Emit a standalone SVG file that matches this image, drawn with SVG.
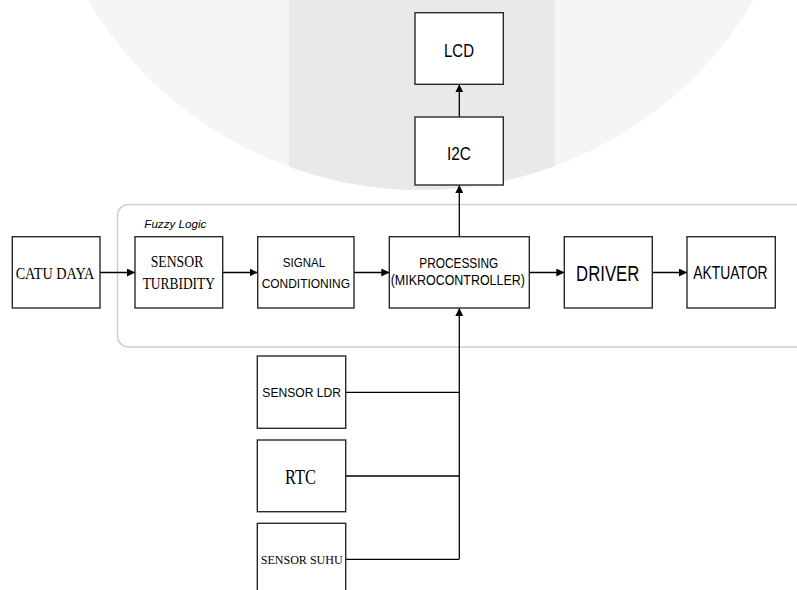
<svg xmlns="http://www.w3.org/2000/svg" width="797" height="590" viewBox="0 0 797 590">
<defs>
<style>
.box{fill:#fff;stroke:#2a2a2a;stroke-width:1.4}
.ln{fill:none;stroke:#000;stroke-width:1.3}
.sans{font-family:"Liberation Sans",Arial,sans-serif;fill:#000;text-anchor:middle}
.serif{font-family:"Liberation Serif","Times New Roman",serif;fill:#000;text-anchor:middle}
</style>
<marker id="arr" markerWidth="8" markerHeight="8" refX="8" refY="4" orient="auto" markerUnits="userSpaceOnUse">
<path d="M0,0 L8,4 L0,8 z" fill="#000"/>
</marker>
<clipPath id="wm"><circle cx="421" cy="-197" r="387"/></clipPath>
</defs>
<rect width="797" height="590" fill="#fff"/>
<g id="watermark">
<circle cx="421" cy="-197" r="387" fill="#f5f5f5"/>
<rect x="289" y="0" width="266" height="200" fill="#e9e9e9" clip-path="url(#wm)"/>
</g>
<g id="fuzzy-container">
<rect x="117.5" y="204.5" width="700" height="142.5" rx="11" fill="none" stroke="#cdcdcd" stroke-width="1.5"/>
<text x="144.3" y="227.7" font-family="'Liberation Sans',Arial,sans-serif" font-style="italic" font-size="11.5" textLength="62" lengthAdjust="spacingAndGlyphs">Fuzzy Logic</text>
</g>
<g id="connectors">
<line class="ln" x1="100" y1="272.5" x2="135" y2="272.5" marker-end="url(#arr)"/>
<line class="ln" x1="222.7" y1="272.5" x2="257.7" y2="272.5" marker-end="url(#arr)"/>
<line class="ln" x1="354" y1="272.5" x2="389.3" y2="272.5" marker-end="url(#arr)"/>
<line class="ln" x1="529.3" y1="272.5" x2="564.3" y2="272.5" marker-end="url(#arr)"/>
<line class="ln" x1="652.3" y1="272.5" x2="687" y2="272.5" marker-end="url(#arr)"/>
<line class="ln" x1="459.3" y1="236.7" x2="459.3" y2="185" marker-end="url(#arr)"/>
<line class="ln" x1="459.3" y1="117" x2="459.3" y2="84.3" marker-end="url(#arr)"/>
<line class="ln" x1="345.7" y1="392.3" x2="459.3" y2="392.3"/>
<line class="ln" x1="345.7" y1="476" x2="459.3" y2="476"/>
<line class="ln" x1="345.7" y1="559.3" x2="459.3" y2="559.3"/>
<line class="ln" x1="459.3" y1="559.3" x2="459.3" y2="308" marker-end="url(#arr)"/>
</g>
<g id="lcd">
<rect class="box" x="415" y="12.7" width="88.3" height="71.6"/>
<text class="sans" x="459" y="56.5" font-size="19" textLength="30" lengthAdjust="spacingAndGlyphs">LCD</text>
</g>
<g id="i2c">
<rect class="box" x="415" y="117" width="88.3" height="68"/>
<text class="sans" x="459" y="159.5" font-size="19" textLength="24" lengthAdjust="spacingAndGlyphs">I2C</text>
</g>
<g id="catu-daya">
<rect class="box" x="12.3" y="236.7" width="87.7" height="71.3"/>
<text class="serif" x="55" y="279.3" font-size="17" textLength="78.7" lengthAdjust="spacingAndGlyphs">CATU DAYA</text>
</g>
<g id="sensor-turbidity">
<rect class="box" x="135" y="236.7" width="87.7" height="71.3"/>
<text class="serif" x="177" y="267.3" font-size="16" textLength="52.7" lengthAdjust="spacingAndGlyphs">SENSOR</text>
<text class="serif" x="178.8" y="289.3" font-size="16" textLength="72.3" lengthAdjust="spacingAndGlyphs">TURBIDITY</text>
</g>
<g id="signal-conditioning">
<rect class="box" x="257.7" y="236.7" width="96.3" height="71.3"/>
<text class="sans" x="304" y="267" font-size="13" textLength="42.3" lengthAdjust="spacingAndGlyphs">SIGNAL</text>
<text class="sans" x="305.8" y="288.3" font-size="13" textLength="88.3" lengthAdjust="spacingAndGlyphs">CONDITIONING</text>
</g>
<g id="processing">
<rect class="box" x="389.3" y="236.7" width="140" height="71.3"/>
<text class="sans" x="458.8" y="268.3" font-size="14" textLength="79" lengthAdjust="spacingAndGlyphs">PROCESSING</text>
<text class="sans" x="457.8" y="285" font-size="14" textLength="134.3" lengthAdjust="spacingAndGlyphs">(MIKROCONTROLLER)</text>
</g>
<g id="driver">
<rect class="box" x="564.3" y="236.7" width="88" height="71.3"/>
<text class="sans" x="607.7" y="280.7" font-size="22" textLength="63.3" lengthAdjust="spacingAndGlyphs">DRIVER</text>
</g>
<g id="aktuator">
<rect class="box" x="687" y="236.7" width="88.3" height="71.3"/>
<text class="sans" x="730.5" y="279.3" font-size="18" textLength="74.3" lengthAdjust="spacingAndGlyphs">AKTUATOR</text>
</g>
<g id="sensor-ldr">
<rect class="box" x="257.3" y="356" width="88.4" height="72.3"/>
<text class="sans" x="301.7" y="397.3" font-size="13.5" textLength="78.7" lengthAdjust="spacingAndGlyphs">SENSOR LDR</text>
</g>
<g id="rtc">
<rect class="box" x="257.3" y="440" width="88.4" height="71.7"/>
<text class="serif" x="300.5" y="484" font-size="22" textLength="31" lengthAdjust="spacingAndGlyphs">RTC</text>
</g>
<g id="sensor-suhu">
<rect class="box" x="257.3" y="523.3" width="88.4" height="80"/>
<text class="serif" x="301.7" y="564" font-size="13.5" textLength="82" lengthAdjust="spacingAndGlyphs">SENSOR SUHU</text>
</g>
</svg>
